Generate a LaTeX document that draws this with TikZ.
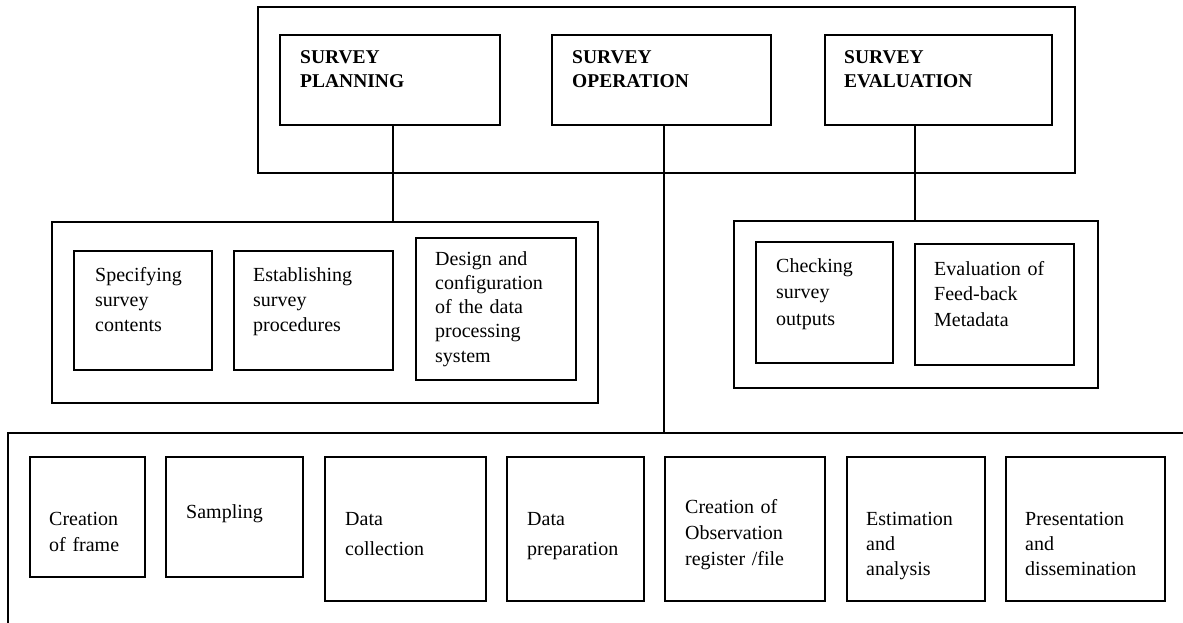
\documentclass[tikz,border=0pt]{standalone}
\usepackage{fontspec}
\setmainfont{Liberation Serif}
\usetikzlibrary{calc}
\begin{document}
\begin{tikzpicture}[x=1pt,y=-1pt,
  box/.style 2 args={draw, line width=1.8pt, inner sep=0pt, outer sep=0pt, anchor=north west, minimum width=#1, minimum height=#2},
  txt/.style={inner sep=0pt, anchor=base west, align=left, text width=#1, font=\fontsize{20}{25}\selectfont},
  txt/.default=150pt,
  ttl/.style={inner sep=0pt, anchor=base west, align=left, text width=200pt, font=\fontsize{19.5}{24}\selectfont\bfseries},
  link/.style={line width=1.6pt}]
\useasboundingbox (0,0) rectangle (1183,622);

% top level
\node[box={817pt}{166pt}] (top) at (258,7) {};
\node[box={220pt}{90pt}] (plan) at (280,35) {};
\node[box={219pt}{90pt}] (oper) at (552,35) {};
\node[box={227pt}{90pt}] (eval) at (825,35) {};
\node[ttl] (tplan) at (300,63) {SURVEY\\PLANNING};
\node[ttl] (toper) at (572,63) {SURVEY\\OPERATION};
\node[ttl] (teval) at (844,63) {SURVEY\\EVALUATION};

% planning group
\node[box={546pt}{181pt}] (pgrp) at (52,222) {};
\node[box={138pt}{119pt}] (spec) at (74,251) {};
\node[box={159pt}{119pt}] (estb) at (234,251) {};
\node[box={160pt}{142pt}] (dsgn) at (416,238) {};
\node[txt] (tspec) at (95,281) {Specifying\\survey\\contents};
\node[txt] (testb) at (253,281) {Establishing\\survey\\procedures};
\node[txt, font=\fontsize{20}{24.3}\selectfont] (tdsgn) at (435,265) {Design and\\configuration\\of the data\\processing\\system};

% evaluation group
\node[box={364pt}{167pt}] (egrp) at (734,221) {};
\node[box={137pt}{121pt}] (chk) at (756,242) {};
\node[box={159pt}{121pt}] (evf) at (915,244) {};
\node[txt, font=\fontsize{20}{26.5}\selectfont] (tchk) at (776,272) {Checking\\survey\\outputs};
\node[txt, font=\fontsize{20}{25.5}\selectfont] (tevf) at (934,275) {Evaluation of\\Feed-back\\Metadata};

% operation group (open frame)
\coordinate (obl) at (8,625);
\coordinate (otl) at (8,433);
\coordinate (otr) at (1186,433);
\draw[line width=1.8pt] (obl) -- (otl) -- (otr);
\node[box={115pt}{120pt}] (frame) at (30,457) {};
\node[box={137pt}{120pt}] (samp) at (166,457) {};
\node[box={161pt}{144pt}] (coll) at (325,457) {};
\node[box={137pt}{144pt}] (prep) at (507,457) {};
\node[box={160pt}{144pt}] (obs) at (665,457) {};
\node[box={138pt}{144pt}] (estm) at (847,457) {};
\node[box={159pt}{144pt}] (pres) at (1006,457) {};
\node[txt, font=\fontsize{20}{26}\selectfont] (tframe) at (49,525) {Creation\\of frame};
\node[txt] (tsamp) at (186,518) {Sampling};
\node[txt, font=\fontsize{20}{30}\selectfont] (tcoll) at (345,525) {Data\\collection};
\node[txt, font=\fontsize{20}{30}\selectfont] (tprep) at (527,525) {Data\\preparation};
\node[txt, font=\fontsize{20}{26}\selectfont] (tobs) at (685,513) {Creation of\\Observation\\register /file};
\node[txt] (testm) at (866,525) {Estimation\\and\\analysis};
\node[txt] (tpres) at (1025,525) {Presentation\\and\\dissemination};

% connectors
\draw[link] ([xshift=113pt]plan.south west) -- ([xshift=113pt]plan.south west |- pgrp.north);
\draw[link] ([xshift=112pt]oper.south west) -- ([xshift=112pt]oper.south west |- otl);
\draw[link] ([xshift=90pt]eval.south west) -- ([xshift=90pt]eval.south west |- egrp.north);
\end{tikzpicture}
\end{document}
